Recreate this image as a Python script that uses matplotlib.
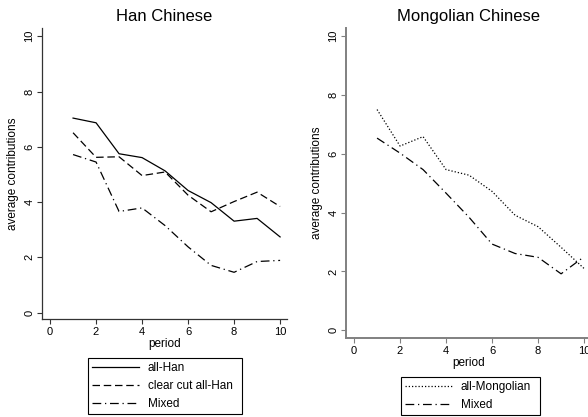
import matplotlib
matplotlib.use("Agg")
import matplotlib.pyplot as plt

plt.rcParams['font.family'] = ['Liberation Sans', 'DejaVu Sans']

# data
periods = [1, 2, 3, 4, 5, 6, 7, 8, 9, 10]

han_all = [7.04, 6.87, 5.75, 5.61, 5.13, 4.42, 3.98, 3.31, 3.41, 2.74]
han_clear_cut = [6.51, 5.62, 5.64, 4.96, 5.09, 4.25, 3.65, 4.02, 4.36, 3.84]
han_mixed = [5.72, 5.45, 3.66, 3.79, 3.15, 2.38, 1.71, 1.46, 1.85, 1.89]

mong_all = [7.5, 6.26, 6.58, 5.46, 5.27, 4.72, 3.91, 3.52, 2.82, 2.1]
mong_mixed = [6.53, 6.02, 5.46, 4.66, 3.84, 2.93, 2.61, 2.48, 1.92, 2.5]

xticks = [0, 2, 4, 6, 8, 10]
yticks = [0, 2, 4, 6, 8, 10]

W, H = 588, 417
fig = plt.figure(figsize=(W / 100, H / 100), dpi=100)

ax1 = fig.add_axes([42 / W, (H - 319) / H, 245 / W, 291 / H])
ax2 = fig.add_axes([346 / W, (H - 338) / H, 245 / W, 310 / H])

solid = '-'
dashed = (0, (6, 3))
dashdot = (0, (7, 3, 1, 3))
dotted = (0, (1, 1.6))

ax1.plot(periods, han_all, color='black', lw=0.9, linestyle=solid, label='all-Han')
ax1.plot(periods, han_clear_cut, color='black', lw=0.9, linestyle=dashed, label='clear cut all-Han')
ax1.plot(periods, han_mixed, color='black', lw=0.9, linestyle=dashdot, label='Mixed')

ax2.plot(periods, mong_all, color='black', lw=0.9, linestyle=dotted, label='all-Mongolian')
ax2.plot(periods, mong_mixed, color='black', lw=0.9, linestyle=dashdot, label='Mixed')

setups = [
    (ax1, 'Han Chinese', (-0.23, 10.3), '#333333', 0.9, (88, 358, 154, 58)),
    (ax2, 'Mongolian Chinese', (-0.26, 10.27), '#808080', 1.4, (401, 377, 139, 39)),
]

for ax, title, ylim, spine_col, spine_w, box in setups:
    ax.set_xlim(-0.35, 10.3)
    ax.set_ylim(*ylim)
    ax.set_xticks(xticks)
    ax.set_yticks(yticks)
    for s in ['top', 'right']:
        ax.spines[s].set_visible(False)
    for s in ['left', 'bottom']:
        ax.spines[s].set_color(spine_col)
        ax.spines[s].set_linewidth(spine_w)
    ax.tick_params(axis='both', labelsize=8, length=3.5, width=0.8, color=spine_col, pad=2)
    for lab in ax.get_yticklabels():
        lab.set_rotation(90)
        lab.set_va('center')
    ax.set_title(title, fontsize=12, pad=5)
    ax.set_xlabel('period', fontsize=8.5, labelpad=1)
    ax.set_ylabel('average contributions', fontsize=8.5, labelpad=4)
    ax.set_facecolor('none')

    # legend box given in pixels (left, top, width, height)
    bx, by, bw, bh = box
    leg = ax.legend(loc='upper left',
                    bbox_to_anchor=(bx / W, 1 - (by + bh) / H, bw / W, bh / H),
                    bbox_transform=fig.transFigure, mode='expand',
                    fontsize=8.5, frameon=True, fancybox=False, framealpha=1,
                    edgecolor='black', handlelength=4.0, handletextpad=0.7,
                    labelspacing=0.5, borderpad=0.35, borderaxespad=0)
    leg.get_frame().set_linewidth(0.8)

fig.savefig('out.png', dpi=100)
